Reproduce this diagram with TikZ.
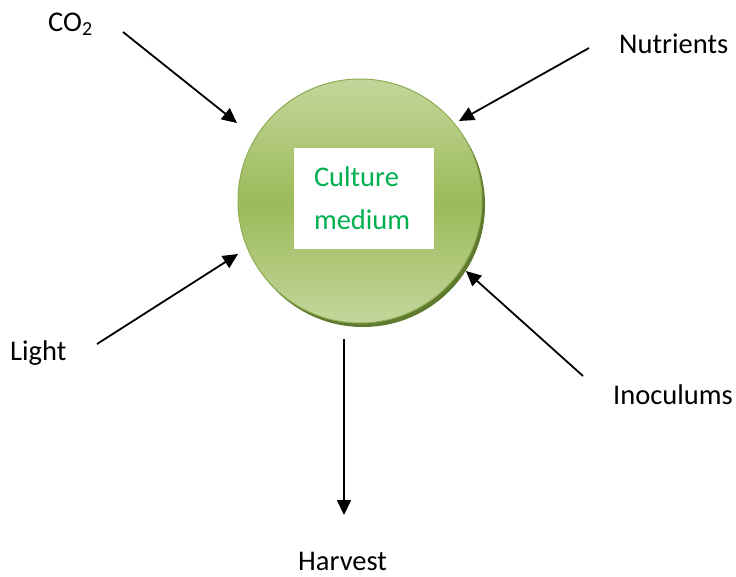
\documentclass[tikz,border=0pt]{standalone}
\usepackage{fontspec}
\setmainfont{Carlito}
\usetikzlibrary{arrows.meta,shadows}
\definecolor{leaf}{HTML}{9BBB59}
\definecolor{leaflight}{HTML}{C3D69B}
\definecolor{leafdark}{HTML}{5E7A2E}
\definecolor{textgreen}{HTML}{00B050}
\tikzset{
  flowlabel/.style={
    font=\fontsize{28.5}{34}\selectfont, inner sep=0pt, anchor=base west
  },
  feedarrow/.style={
    -{Triangle[length=15pt,width=14pt]}, line width=1.8pt, color=#1
  },
  feedarrow/.default=black,
}
\begin{document}
\begin{tikzpicture}[x=1pt,y=-1pt]
  \useasboundingbox (0,0) rectangle (736,576);

  % Reactor
  \node[circle, minimum size=244pt, draw=leaf!92!black, line width=1pt,
    top color=leaflight, bottom color=leaflight, middle color=leaf,
    drop shadow={shadow xshift=3pt, shadow yshift=-4pt, fill=leafdark, opacity=1}]
    (med) at (360,201) {};
  \node[fill=white, minimum width=140pt, minimum height=101pt, text width=100pt,
    align=left, inner sep=0pt, font=\fontsize{28.5}{43}\selectfont, text=textgreen]
    (medtxt) at (364,198.5) {Culture\\medium};

  % Inputs and output
  \node[flowlabel] (co2) at (48,31) {CO\textsubscript{2}};
  \node[flowlabel] (nut) at (619,53) {Nutrients};
  \node[flowlabel] (light) at (10,360) {Light};
  \node[flowlabel] (ino) at (613,404) {Inoculums};
  \node[flowlabel] (harv) at (298,570) {Harvest};

  % Arrow ends
  \coordinate (co2-a) at (123,32);   \coordinate (co2-b) at (237,123);
  \coordinate (nut-a) at (589,48);   \coordinate (nut-b) at (459,121);
  \coordinate (light-a) at (97,344); \coordinate (light-b) at (238,254);
  \coordinate (ino-a) at (583,376);  \coordinate (ino-b) at (466,271);
  \coordinate (harv-a) at (344,339); \coordinate (harv-b) at (344,515);

  % Arrows
  \draw[feedarrow] (co2-a) -- (co2-b);
  \draw[feedarrow] (nut-a) -- (nut-b);
  \draw[feedarrow] (light-a) -- (light-b);
  \draw[feedarrow] (ino-a) -- (ino-b);
  \draw[feedarrow] (harv-a) -- (harv-b);
\end{tikzpicture}
\end{document}
